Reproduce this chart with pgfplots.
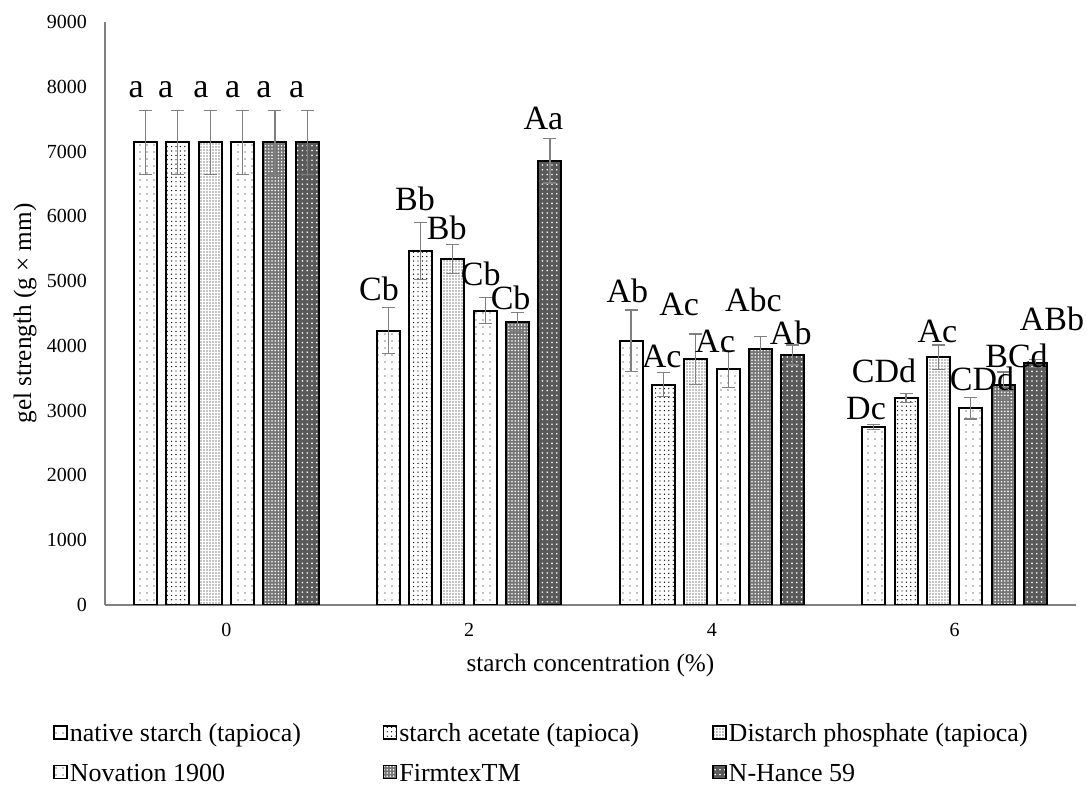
\documentclass[border=0pt]{standalone}
\usepackage{pgfplots}
\pgfplotsset{compat=1.18}
\usepackage{pgfplotstable}
\usetikzlibrary{patterns.meta}
\usepackage{fontspec}
\setmainfont{Liberation Serif}

% native starch (tapioca)
\pgfplotstableread{
x y e
-0.333 7140 490
0.667 4234 355
1.667 4080 475
2.667 2743 40
}\sA
% starch acetate (tapioca)
\pgfplotstableread{
x y e
-0.200 7140 490
0.800 5469 440
1.800 3401 185
2.800 3191 70
}\sB
% Distarch phosphate (tapioca)
\pgfplotstableread{
x y e
-0.067 7140 490
0.933 5341 220
1.933 3793 390
2.933 3824 190
}\sC
% Novation 1900
\pgfplotstableread{
x y e
0.067 7140 490
1.067 4543 200
2.067 3638 283
3.067 3036 164
}\sD
% FirmtexTM
\pgfplotstableread{
x y e
0.200 7140 490
1.200 4369 145
2.200 3947 195
3.200 3396 200
}\sE
% N-Hance 59
\pgfplotstableread{
x y e
0.333 7140 490
1.333 6859 345
2.333 3859 155
3.333 3731 60
}\sF
% significance letters (x, baseline y, text)
\pgfplotstableread{
x y lab
-0.372 7822 a
-0.250 7822 a
-0.105 7822 a
0.026 7822 a
0.155 7822 a
0.290 7822 a
0.629 4682 Cb
0.777 6082 Bb
0.908 5634 Bb
1.048 4924 Cb
1.171 4554 Cb
1.306 7333 Aa
1.652 4657 Ab
1.793 3654 Ac
1.865 4461 Ac
2.013 3885 Ac
2.171 4512 Abc
2.325 4014 Ab
2.635 2856 Dc
2.709 3422 CDd
2.929 4040 Ac
3.113 3293 CDd
3.255 3654 BCd
3.401 4219 ABb
}\labs

\pgfplotsset{
  mybar/.style={ybar, bar width=11.5pt, bar shift=0pt, draw=black, line width=1pt,
    error bars/y dir=both, error bars/y explicit,
    error bars/error bar style={black!50, line width=0.6pt},
    error bars/error mark options={black!50, line width=0.6pt, mark size=3.25pt, rotate=90}},
}

\begin{document}
\begin{tikzpicture}
\begin{axis}[name=ax, scale only axis, width=485.5pt, height=291.5pt,
  xmin=-0.5, xmax=3.5, ymin=0, ymax=9000,
  xtick={0,1,2,3}, xticklabels={0,2,4,6},
  ytick={0,1000,...,9000},
  axis x line*=bottom, axis y line*=left,
  axis line style={-, draw=black!50, line width=0.6pt},
  major tick length=0pt,
  tick label style={font=\fontsize{10}{12}\selectfont},
  /pgf/number format/assume math mode=true,
  /pgf/number format/1000 sep={},
  yticklabel style={xshift=-5.5pt},
  xticklabel style={yshift=-5.8pt},
  xlabel={starch concentration (\%)},
  ylabel={gel strength (g × mm)},
  label style={font=\fontsize{12.6}{15}\selectfont},
  xlabel style={at={(axis description cs:0.5,0)}, anchor=center, yshift=-30pt},
  ylabel style={at={(axis description cs:-0.0824,0.5)}, anchor=center},
  legend columns=3,
  legend cell align=left,
  legend style={at={(axis description cs:-0.0536,-0.1928)}, anchor=north west,
    draw=none, fill=none, inner sep=0pt, font=\fontsize{13}{15.6}\selectfont,
    row sep=5.5pt, nodes={inner xsep=1pt, inner ysep=1pt},
    /tikz/every even column/.append style={column sep=0pt}},
  legend image code/.code={\draw[#1, line width=0.8pt] (0pt,-3.25pt) rectangle (6.5pt,3.25pt);},
]
\addplot[mybar, fill=white, postaction={pattern={Dots[distance=3.5pt,radius=0.35pt]}}] table[x=x,y=y,y error=e]{\sA};
\addlegendentry{\makebox[155.4pt][l]{\strut native starch (tapioca)}}
\addplot[mybar, fill=white, postaction={pattern={Dots[distance=2.2pt,radius=0.35pt]}}] table[x=x,y=y,y error=e]{\sB};
\addlegendentry{\makebox[155.4pt][l]{\strut starch acetate (tapioca)}}
\addplot[mybar, fill=white, postaction={pattern={Dots[distance=1.5pt,radius=0.35pt]}}] table[x=x,y=y,y error=e]{\sC};
\addlegendentry{\makebox[155.4pt][l]{\strut Distarch phosphate (tapioca)}}
\addplot[mybar, fill=white, postaction={pattern={Dots[distance=3.5pt,radius=0.35pt]}}] table[x=x,y=y,y error=e]{\sD};
\addlegendentry{\makebox[155.4pt][l]{\strut Novation 1900}}
\addplot[mybar, fill=black!55, postaction={pattern={Dots[distance=1.6pt,radius=0.45pt]}, pattern color=white}] table[x=x,y=y,y error=e]{\sE};
\addlegendentry{\makebox[155.4pt][l]{\strut FirmtexTM}}
\addplot[mybar, fill=black!65, postaction={pattern={Dots[distance=2.4pt,radius=0.45pt]}, pattern color=white}] table[x=x,y=y,y error=e]{\sF};
\addlegendentry{\makebox[155.4pt][l]{\strut N-Hance 59}}
\addplot[forget plot, draw=none, mark=none, nodes near coords, point meta=explicit symbolic,
  every node near coord/.append style={font=\fontsize{17}{20}\selectfont, inner sep=0pt, text=black}]
  table[x=x,y=y,meta=lab]{\labs};
\end{axis}
\pgfresetboundingbox
\path[use as bounding box] ([xshift=-52.5pt,yshift=-92pt]ax.south west) rectangle ([xshift=5.5pt,yshift=11pt]ax.north east);
\end{tikzpicture}
\end{document}
